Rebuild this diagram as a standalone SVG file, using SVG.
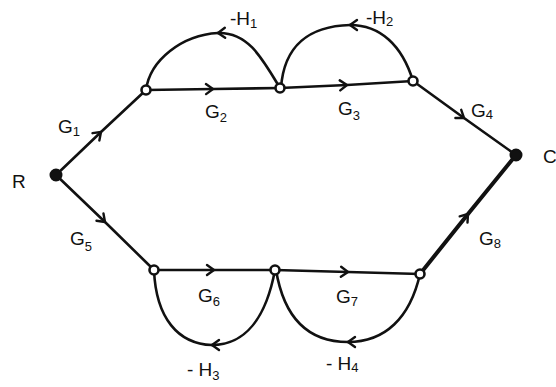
<svg xmlns="http://www.w3.org/2000/svg" width="556" height="387" viewBox="0 0 556 387">
<style>
.e{fill:none;stroke:#111;stroke-width:2.6;stroke-linecap:round;stroke-linejoin:round}
.thick{stroke-width:4}
.n{fill:#fff;stroke:#111;stroke-width:2.6}
.d{fill:#111;stroke:#111;stroke-width:2}
.t{font-family:"Liberation Sans",Arial,sans-serif;font-size:19px;fill:#111}
.s{font-size:13px}
</style>
<defs>
<marker id="a" markerUnits="userSpaceOnUse" markerWidth="14" markerHeight="14" viewBox="0 0 14 14" refX="9" refY="7" orient="auto">
<path d="M2,2 L9,7 L2,12" fill="none" stroke="#111" stroke-width="2.4" stroke-linecap="round" stroke-linejoin="round"/>
</marker>
</defs>
<g id="connectors">
<path class="e" d="M56,175 L101,132 L146,90" marker-mid="url(#a)"/>
<path class="e" d="M146,90 L213,89 L280,88" marker-mid="url(#a)"/>
<path class="e" d="M280,88 L347,85 L413,81" marker-mid="url(#a)"/>
<path class="e" d="M413,81 L464,118 L516,155" marker-mid="url(#a)"/>
<path class="e" d="M56,175 L105,222 L154,270" marker-mid="url(#a)"/>
<path class="e" d="M154,270 L214,270 L275,270" marker-mid="url(#a)"/>
<path class="e" d="M275,270 L348,272 L420,274" marker-mid="url(#a)"/>
<path class="e thick" d="M420,274 L468,214 L516,155" marker-mid="url(#a)"/>
<path class="e" d="M280,88 C262,58 248,32 218,33" marker-end="url(#a)"/>
<path class="e" d="M218,33 C182,35 150,60 146,90"/>
<path class="e" d="M413,81 C402,45 380,25 350,25" marker-end="url(#a)"/>
<path class="e" d="M350,25 C310,26 284,45 281,88"/>
<path class="e" d="M275,270 C266,318 245,345 212,345" marker-end="url(#a)"/>
<path class="e" d="M212,345 C178,344 156,318 154,270"/>
<path class="e" d="M420,274 C410,318 385,342 348,342" marker-end="url(#a)"/>
<path class="e" d="M348,342 C308,342 284,318 276,270"/>
</g>
<g id="R"><circle class="d" cx="56" cy="175" r="5.5"/><text class="t" x="12" y="188">R</text></g>
<g id="C"><circle class="d" cx="516" cy="155" r="5.5"/><text class="t" x="543" y="163">C</text></g>
<g id="N1"><circle class="n" cx="146" cy="90" r="4.5"/></g>
<g id="N2"><circle class="n" cx="280" cy="88" r="4.5"/></g>
<g id="N3"><circle class="n" cx="413" cy="81" r="4.5"/></g>
<g id="N4"><circle class="n" cx="154" cy="270" r="4.5"/></g>
<g id="N5"><circle class="n" cx="275" cy="270" r="4.5"/></g>
<g id="N6"><circle class="n" cx="420" cy="274" r="4.5"/></g>
<g id="labels">
<text class="t" x="58" y="133">G<tspan class="s" dy="3">1</tspan></text>
<text class="t" x="205" y="118">G<tspan class="s" dy="4">2</tspan></text>
<text class="t" x="230" y="25">-H<tspan class="s" dy="3">1</tspan></text>
<text class="t" x="338" y="115">G<tspan class="s" dy="5">3</tspan></text>
<text class="t" x="366" y="24">-H<tspan class="s" dy="2">2</tspan></text>
<text class="t" x="471" y="117">G<tspan class="s" dy="2">4</tspan></text>
<text class="t" x="70" y="245">G<tspan class="s" dy="6">5</tspan></text>
<text class="t" x="198" y="302">G<tspan class="s" dy="4">6</tspan></text>
<text class="t" x="187" y="376">- H<tspan class="s" dy="4">3</tspan></text>
<text class="t" x="336" y="303">G<tspan class="s" dy="3">7</tspan></text>
<text class="t" x="326" y="370">- H<tspan class="s" dy="2">4</tspan></text>
<text class="t" x="479" y="245">G<tspan class="s" dy="3">8</tspan></text>
</g>
</svg>
